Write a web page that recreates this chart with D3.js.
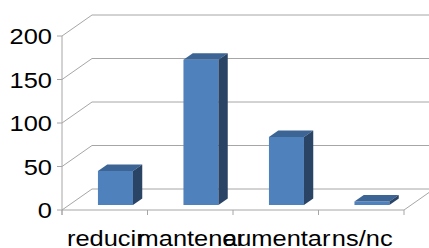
<!DOCTYPE html>
<html><head><meta charset="utf-8">
<script src="https://cdn.jsdelivr.net/npm/d3@7"></script>
<style>html,body{margin:0;padding:0;background:#fff;}svg{display:block;}</style>
</head><body>
<script>
const categories = ["reducir", "mantener", "aumentar", "ns/nc"];
const values = [39, 167, 78, 4];
const yTicks = [0, 50, 100, 150, 200];

const W = 429, H = 248;
const svg = d3.select("body").append("svg").attr("width", W).attr("height", H);

const x = d3.scaleBand().domain(categories).range([62, 404]);
const y = d3.scaleLinear().domain([0, 200]).range([210, 36]);
const DX = 30, DY = -21;
const proj = (px, py, z) => [px + z * DX, py + z * DY];
const FONT = "Liberation Sans, Arial, sans-serif";
const FS = 22.5, SX = 1.13;

const grid = "#a6a6a6";
yTicks.forEach(t => {
  const [bx, by] = proj(x.range()[0], y(t), 1);
  svg.append("line").attr("x1", x.range()[0]).attr("y1", y(t)).attr("x2", bx).attr("y2", by)
    .attr("stroke", grid).attr("stroke-width", 1);
  svg.append("line").attr("x1", bx).attr("y1", by).attr("x2", x.range()[1] + DX).attr("y2", by)
    .attr("stroke", grid).attr("stroke-width", 1);
});
svg.append("line").attr("x1", x.range()[1]).attr("y1", y(0)).attr("x2", x.range()[1] + DX).attr("y2", y(0) + DY)
  .attr("stroke", grid);

svg.append("line").attr("x1", 62).attr("y1", y(200)).attr("x2", 62).attr("y2", y(0) + 5).attr("stroke", grid);
svg.append("line").attr("x1", 62).attr("y1", y(0)).attr("x2", x.range()[1]).attr("y2", y(0)).attr("stroke", grid);
yTicks.forEach(t => {
  svg.append("line").attr("x1", 57).attr("x2", 62).attr("y1", y(t)).attr("y2", y(t)).attr("stroke", grid);
  svg.append("text").attr("transform", `translate(52,${y(t)}) scale(${SX},1)`).attr("dy", "0.36em")
    .attr("text-anchor", "end")
    .attr("font-family", FONT).attr("font-size", FS).attr("fill", "#000").text(t);
});
const bounds = categories.map(c => x(c)).concat([x.range()[1]]);
bounds.forEach(b => {
  svg.append("line").attr("x1", b).attr("x2", b).attr("y1", y(0)).attr("y2", y(0) + 5).attr("stroke", grid);
});

const z0 = 0.24, z1 = 0.55, bw = 35, off = -14;
categories.forEach((c, i) => {
  const cx = x(c) + x.bandwidth() / 2;
  const l = cx + off, r = l + bw;
  const t = y(values[i]), b = y(0);
  const P = (px, py, z) => proj(px, py, z).join(",");
  svg.append("polygon").attr("points", [P(l, b, z0), P(r, b, z0), P(r, t, z0), P(l, t, z0)].join(" "))
    .attr("fill", "#4f81bd");
  svg.append("polygon").attr("points", [P(l, t, z0), P(r, t, z0), P(r, t, z1), P(l, t, z1)].join(" "))
    .attr("fill", "#3c6494");
  svg.append("polygon").attr("points", [P(r, b, z0), P(r, b, z1), P(r, t, z1), P(r, t, z0)].join(" "))
    .attr("fill", "#2a4466");
});

categories.forEach(c => {
  svg.append("text").attr("transform", `translate(${x(c) + x.bandwidth() / 2 + 1},245.5) scale(${SX},1)`)
    .attr("text-anchor", "middle")
    .attr("font-family", FONT).attr("font-size", FS).attr("fill", "#000").text(c);
});
</script>
</body></html>
